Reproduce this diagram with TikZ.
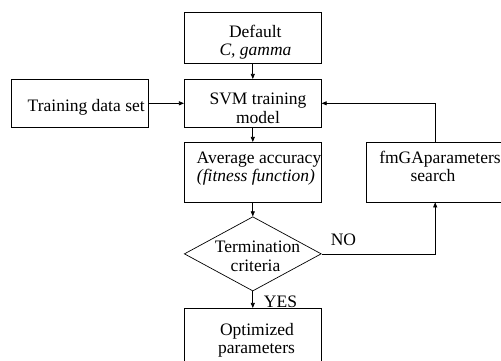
\documentclass[tikz,border=0pt]{standalone}
\usepackage{fontspec}
\setmainfont{Liberation Serif}
\usetikzlibrary{arrows.meta,shapes.geometric}
\tikzset{
  box/.style={draw, line width=0.7pt, inner sep=0pt, minimum width=137pt},
  lbl/.style={anchor=base, inner sep=0pt, font=\fontsize{17.5}{19}\selectfont},
  conn/.style={line width=0.7pt, -{Triangle[length=5pt,width=4pt]}},
  plain/.style={line width=0.7pt}
}
\begin{document}
\begin{tikzpicture}[x=1pt,y=-1pt]
\useasboundingbox (0,0) rectangle (501,360);
\clip (0,0) rectangle (501,360);
% boxes
\node[box, minimum height=50.3pt] (def) at (252.8,37.85) {};
\node[box, minimum height=48pt] (svm) at (252.8,103.3) {};
\node[box, minimum height=48pt] (train) at (80,103.3) {};
\node[box, minimum height=59.7pt] (avg) at (252.8,172.15) {};
\node[box, minimum height=59.7pt] (fmga) at (435.2,172.15) {};
\node[box, minimum height=62pt] (opt) at (252.8,339.3) {};
\node[draw, line width=0.7pt, diamond, inner sep=0pt, minimum width=137pt, minimum height=74.3pt] (dia) at (252.8,253.85) {};
% texts
\node[lbl] (t1) at (255.3,37.7) {Default};
\node[lbl] (t2) at (255.5,55.2) {\itshape C, gamma};
\node[lbl] (t3) at (258,104.8) {SVM training};
\node[lbl] (t4) at (258,123) {model};
\node[lbl] (t5) at (86.2,111.7) {Training data set};
\node[lbl] (t6) at (259,163.3) {Average accuracy};
\node[lbl] (t7) at (256,181) {\itshape (fitness function)};
\node[lbl] (t8) at (440,163.3) {fmGAparameters};
\node[lbl] (t9) at (433,181) {search};
\node[lbl] (t10) at (257.5,252.3) {Termination};
\node[lbl] (t11) at (255.5,271.7) {criteria};
\node[lbl] (t12) at (257,335) {Optimized};
\node[lbl] (t13) at (256.5,353.3) {parameters};
\node[lbl] (no) at (343.5,245.5) {NO};
\node[lbl] (yes) at (280.5,307) {YES};
% connectors
\draw[conn] (def.south) -- (svm.north);
\draw[conn] (train.east) -- (svm.west);
\draw[conn] (svm.south) -- (avg.north);
\draw[conn] (avg.south) -- (dia.north);
\draw[conn] (dia.south) -- (opt.north);
\draw[conn] (dia.east) -| (fmga.south);
\draw[conn] (fmga.north) |- (svm.east);
\end{tikzpicture}
\end{document}
